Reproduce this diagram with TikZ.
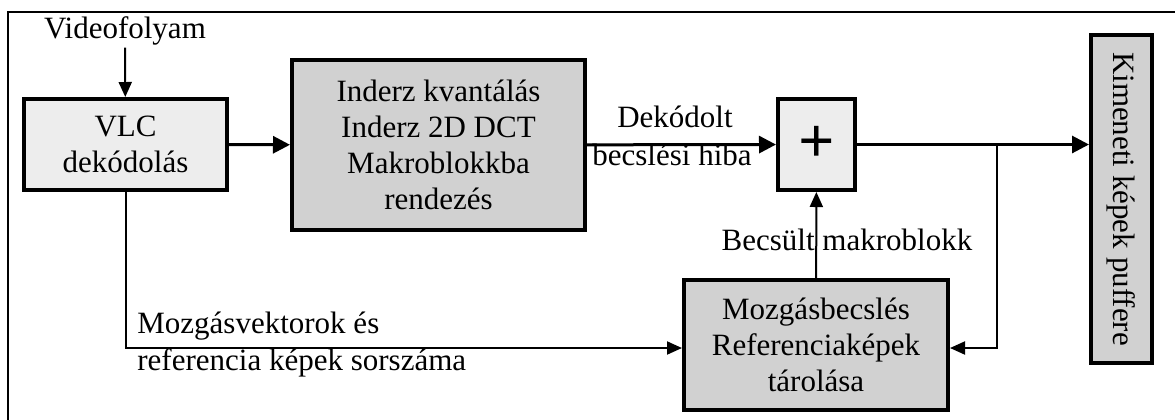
\documentclass[tikz,border=0pt]{standalone}
\usepackage{fontspec}
\setmainfont{Liberation Serif}
\usetikzlibrary{arrows.meta}

\begin{document}
\begin{tikzpicture}[x=0.5pt,y=-0.5pt,font=\fontsize{15.5}{18}\selectfont,
  blokk/.style={draw,line width=2pt,align=center,inner sep=0pt},
  vilagos/.style={blokk,fill=black!7},
  sotet/.style={blokk,fill=black!18},
  fo/.style={line width=1.5pt,-{Triangle[length=8.5pt,width=8.5pt]}},
  vekony/.style={line width=1pt,-{Triangle[length=7.5pt,width=6.5pt]}}]
\useasboundingbox (0,0) rectangle (1175,419);
\draw [line width=0.6pt] (8,440) |- (1190,12);
  % blokkok
  \node (vlc) at (125.5,144.5) [vilagos,minimum width=101.5pt,minimum height=45.5pt] {VLC\\dekódolás};
  \node (inv) at (438.5,145) [sotet,minimum width=146.5pt,minimum height=85pt] {Inderz kvantálás\\Inderz 2D DCT\\Makroblokkba\\rendezés};
  \node (plus) at (816.5,144.5) [vilagos,minimum width=38.5pt,minimum height=45.5pt,font=\fontsize{32}{34}\selectfont\bfseries] {+};
  \node (moz) at (816,345) [sotet,minimum width=132pt,minimum height=65pt] {Mozgásbecslés\\Referenciaképek\\tárolása};
  \node (ki) at (1121.5,199) [sotet,rotate=-90,minimum width=164pt,minimum height=30.5pt] {Kimeneti képek puffere};
  % feliratok
  \node (src) at (125,31) [inner sep=1pt] {Videofolyam};
  \node (dek) at (675,127) [anchor=base,inner sep=0pt] {Dekódolt};
  \node (hiba) at (672,165) [anchor=base,inner sep=0pt] {becslési hiba};
  \node (becs) at (847,250) [anchor=base,inner sep=0pt] {Becsült makroblokk};
  \node (mv1) at (137,333) [anchor=base west,inner sep=0pt] {Mozgásvektorok és};
  \node (mv2) at (137,370) [anchor=base west,inner sep=0pt] {referencia képek sorszáma};
  \coordinate (br) at (997,145);
  % nyilak
  \draw [vekony] (src) -- (vlc);
  \draw [fo] (vlc) -- (inv);
  \draw [fo] (inv) -- (plus);
  \draw [fo] (plus) -- (plus -| ki.south);
  \draw [vekony] (br) |- ([yshift=-1.5pt]moz.east);
  \draw [vekony] (moz) -- (plus);
  \draw [vekony] (vlc) |- ([yshift=-1.5pt]moz.west);
\end{tikzpicture}
\end{document}
